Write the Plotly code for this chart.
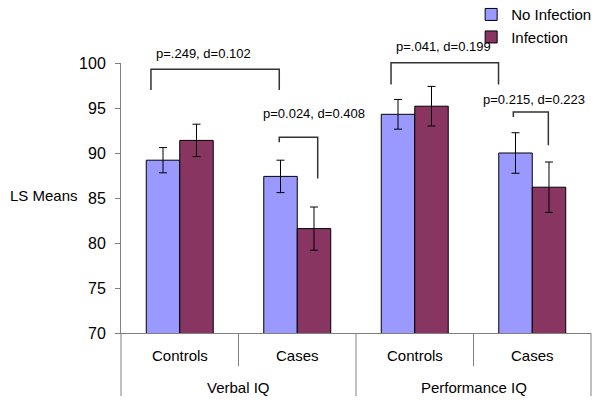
import plotly.graph_objects as go

# data
groups = ["Verbal IQ", "Verbal IQ", "Performance IQ", "Performance IQ"]
subgroups = ["Controls", "Cases", "Controls", "Cases"]
categories = ["Verbal Controls", "Verbal Cases", "Performance Controls", "Performance Cases"]

no_infection = [89.2, 87.4, 94.3, 90.0]
no_infection_err = [1.4, 1.8, 1.65, 2.25]
infection = [91.4, 81.6, 95.2, 86.2]
infection_err = [1.8, 2.4, 2.2, 2.8]

comparisons = ["p=.249, d=0.102", "p=0.024, d=0.408", "p=.041, d=0.199", "p=0.215, d=0.223"]

Y_MIN, Y_MAX = 70, 100
FONT = "Arial, Liberation Sans, sans-serif"
LINE = "#333333"
SEP = "#808080"


def ypaper(v):
    return (v - Y_MIN) / (Y_MAX - Y_MIN)


def xpaper(i):
    return (i + 0.5) / len(categories)


def label(text, x, y, xref="x", size=15, **kw):
    return dict(text=text, x=x, y=y, xref=xref, yref="paper", showarrow=False,
                xanchor=kw.get("xanchor", "center"), yanchor="middle",
                font=dict(size=size, color="black"))


fig = go.Figure()
fig.add_trace(go.Bar(
    x=categories, y=no_infection, name="No Infection",
    marker=dict(color="#9999FF", line=dict(color="black", width=1)),
    error_y=dict(type="data", array=no_infection_err, color="black", thickness=1, width=4),
))
fig.add_trace(go.Bar(
    x=categories, y=infection, name="Infection",
    marker=dict(color="#883562", line=dict(color="black", width=1)),
    error_y=dict(type="data", array=infection_err, color="black", thickness=1, width=4),
))

# brackets: (left x, right x, top, left leg bottom, right leg bottom, label x, label y)
brackets = [
    (-0.245, 0.847, 99.3, 97.0, 97.0, 0.198, 101.1),
    (0.847, 1.174, 91.74, 91.2, 87.16, 1.141, 94.38),
    (1.798, 2.713, 100.04, 97.6, 97.6, 2.243, 101.78),
    (2.839, 3.137, 94.56, 94.0, 90.86, 3.015, 95.97),
]

shapes = []
annotations = []
for text, (x0, x1, top, b0, b1, lx, ly) in zip(comparisons, brackets):
    path = "M{},{} L{},{} L{},{} L{},{}".format(x0, ypaper(b0), x0, ypaper(top),
                                               x1, ypaper(top), x1, ypaper(b1))
    shapes.append(dict(type="path", path=path, xref="x", yref="paper",
                       line=dict(color=LINE, width=1.5)))
    annotations.append(label(text, lx, ypaper(ly), size=13))

# category separators below the axis
for i in range(len(categories) + 1):
    b = i - 0.5
    long_line = i in (0, 2, 4)
    shapes.append(dict(type="line", xref="paper", yref="paper",
                       x0=xpaper(b), x1=xpaper(b), y0=0,
                       y1=ypaper(Y_MIN - (7.0 if long_line else 3.67)),
                       line=dict(color=SEP, width=1)))

for i, sub in enumerate(subgroups):
    annotations.append(label(sub, i, ypaper(Y_MIN - 2.55)))
for g in ["Verbal IQ", "Performance IQ"]:
    idx = [i for i, v in enumerate(groups) if v == g]
    annotations.append(label(g, sum(idx) / len(idx), ypaper(Y_MIN - 6.0)))

annotations.append(label("LS Means", -0.24, ypaper(85.3), xref="paper", xanchor="left"))

fig.update_layout(
    width=600, height=406,
    margin=dict(l=121, r=9, t=63, b=73, autoexpand=False),
    plot_bgcolor="white", paper_bgcolor="white",
    font=dict(family=FONT, size=15, color="black"),
    barmode="group", bargap=0.43, bargroupgap=0,
    showlegend=True,
    legend=dict(x=0.745, y=1.24, xanchor="left", yanchor="top",
                bgcolor="rgba(0,0,0,0)", font=dict(size=15), tracegroupgap=0),
    xaxis=dict(type="category", showticklabels=False, ticks="", showline=True,
               linecolor=SEP, linewidth=1, showgrid=False, zeroline=False,
               range=[-0.5, 3.5]),
    yaxis=dict(range=[Y_MIN, Y_MAX], dtick=5, ticks="outside", ticklen=5, tickcolor=SEP,
               showline=True, linecolor=SEP, linewidth=1, showgrid=False, zeroline=False,
               tickfont=dict(size=16), ticklabelstandoff=6),
    shapes=shapes,
    annotations=annotations,
)

fig.write_html("out.html", config={"displayModeBar": False},
               post_script="document.body.style.margin = '0';")
